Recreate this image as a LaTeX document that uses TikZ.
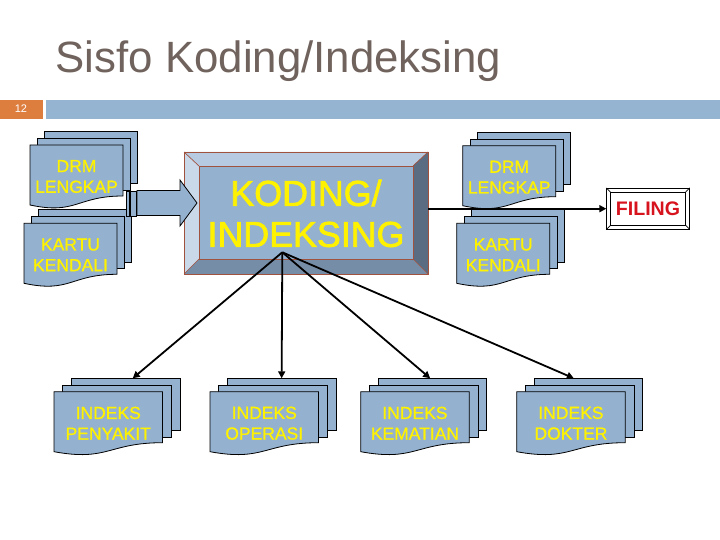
\documentclass[tikz,border=0pt]{standalone}
\usepackage{fontspec}
\setmainfont{Liberation Sans}
\newfontfamily\semiboldfont[FakeBold=2]{Liberation Sans}
\newfontfamily\docfont[FakeBold=1]{Liberation Sans}
\usetikzlibrary{arrows.meta,calc}
\definecolor{sheetblue}{RGB}{148,177,208}
\definecolor{bartblue}{RGB}{148,180,210}
\definecolor{slideorange}{RGB}{222,126,62}
\definecolor{titlegray}{RGB}{112,98,92}
\definecolor{bevtop}{RGB}{182,202,225}
\definecolor{bevleft}{RGB}{202,217,234}
\definecolor{bevright}{RGB}{90,108,130}
\definecolor{bevbottom}{RGB}{118,141,168}
\definecolor{boxborder}{RGB}{160,82,62}
\definecolor{filingred}{RGB}{215,20,30}
\tikzset{
  sheetrect/.style={draw=black, line width=0.8pt, fill=sheetblue, inner sep=0pt, outer sep=0pt, minimum height=52pt},
  sheetfill/.style={draw=black, line width=0.8pt, fill=sheetblue},
  doctext/.style={text=yellow, font=\docfont\fontsize{17.5}{20.7}\selectfont, align=center, inner sep=0pt},
  conn/.style={line width=1.8pt, -{Triangle[length=7pt,width=7pt]}},
}
\newcommand\mydocstack[6]{%
  \node[sheetrect, minimum width=#4pt, anchor=north west] (#1-back) at ({#2+2*#5},{#3-13.4}) {};
  \node[sheetrect, minimum width=#4pt, anchor=north west] (#1-mid) at ({#2+#5},{#3-6.7}) {};
  \path[sheetfill] (#2,#3) -- ({#2+#4},#3) -- ({#2+#4},{#3+51})
     .. controls ({#2+0.5*#4},{#3+51}) and ({#2+0.5*#4},{#3+70}) .. (#2,{#3+60}) -- cycle;
  \node[doctext] (#1) at ({#2+0.5*#4},{#3+31.5}) {#6};
}
\begin{document}
\begin{tikzpicture}[x=1pt,y=-1pt]
\useasboundingbox (0,0) rectangle (720,540);
\fill[white] (0,0) rectangle (720,540);
% title
\node[anchor=base west, inner sep=0pt, text=titlegray, font=\fontsize{43.8}{50}\selectfont] (title) at (55.5,72.7) {Sisfo Koding/Indeksing};
% header bar
\fill[slideorange] (0,100) rectangle (43,119.3);
\fill[bartblue] (46,100) rectangle (720,119.3);
\node[text=white, font=\fontsize{11}{13}\selectfont, inner sep=0pt] (num) at (21,108.4) {12};
% stacks
\mydocstack{ldrm}{30}{145}{93}{7.3}{DRM\\LENGKAP}
\mydocstack{lkartu}{24}{223.3}{93}{7.3}{KARTU\\KENDALI}
\mydocstack{rdrm}{462.7}{145.7}{93}{7.3}{DRM\\LENGKAP}
\mydocstack{rkartu}{456.7}{223.3}{93}{7.3}{KARTU\\KENDALI}
\mydocstack{pen}{54}{391.7}{108.5}{8.7}{INDEKS\\PENYAKIT}
\mydocstack{ope}{210}{391.7}{108.5}{8.7}{INDEKS\\OPERASI}
\mydocstack{kem}{360.7}{391.7}{108.5}{8.7}{INDEKS\\KEMATIAN}
\mydocstack{dok}{516.7}{391.7}{108.5}{8.7}{INDEKS\\DOKTER}
% KODING box (bevelled)
\path[fill=bevtop] (184,152) -- (428,152) -- (413,166) -- (199,166) -- cycle;
\path[fill=bevleft] (184,152) -- (199,166) -- (199,259) -- (184,274) -- cycle;
\path[fill=bevright] (428,152) -- (428,274) -- (413,259) -- (413,166) -- cycle;
\path[fill=bevbottom] (184,274) -- (428,274) -- (413,259) -- (199,259) -- cycle;
\draw[boxborder, line width=0.7pt, fill=sheetblue] (199,166) rectangle (413,259);
\draw[boxborder, line width=0.7pt] (184,152) -- (199,166) (428,152) -- (413,166)
   (184,274) -- (199,259) (428,274) -- (413,259);
\node[draw=boxborder, line width=0.9pt, minimum width=244pt, minimum height=122pt, inner sep=0pt] (koding) at (306,213) {};
\node[text=yellow, font=\semiboldfont\fontsize{35.8}{41}\selectfont, align=center, inner sep=0pt] (kodingtext) at (306,213.5) {KODING/\\INDEKSING};
% striped block arrow
\draw[line width=0.8pt, fill=sheetblue] (126,191.5) rectangle (129.5,216.5);
\draw[line width=0.8pt, fill=sheetblue] (130.5,191.5) rectangle (136,216.5);
\draw[line width=0.8pt, fill=sheetblue] (137,190.5) -- (180,190.5) -- (180,180) -- (197,203)
   -- (180,226) -- (180,215.5) -- (137,215.5) -- cycle;
% FILING box
\node[draw=black, line width=0.8pt, fill=white, minimum width=82.6pt, minimum height=40.7pt, inner sep=0pt,
   text=filingred, font=\bfseries\fontsize{19.6}{22}\selectfont] (filing) at (648,208.7) {FILING};
\draw[line width=0.7pt] ($(filing.north west)+(4,4)$) rectangle ($(filing.south east)+(-4,-4)$);
\draw[line width=0.7pt] (filing.north west) -- ++(4,4) (filing.north east) -- ++(-4,4)
   (filing.south west) -- ++(4,-4) (filing.south east) -- ++(-4,-4);
% connectors
\draw[conn] (koding.east |- filing.west) -- (filing.west);
\coordinate (src) at (282.3,252.3);
\draw[conn] (src) -- ($(pen-back.north west)!0.565!(pen-back.north east)$);
\draw[conn] (src) -- (ope-back.north);
\draw[conn] (src) -- ($(kem-back.north west)!0.48!(kem-back.north east)$);
\draw[conn] (src) -- ($(dok-back.north west)!0.366!(dok-back.north east)$);
\end{tikzpicture}
\end{document}
